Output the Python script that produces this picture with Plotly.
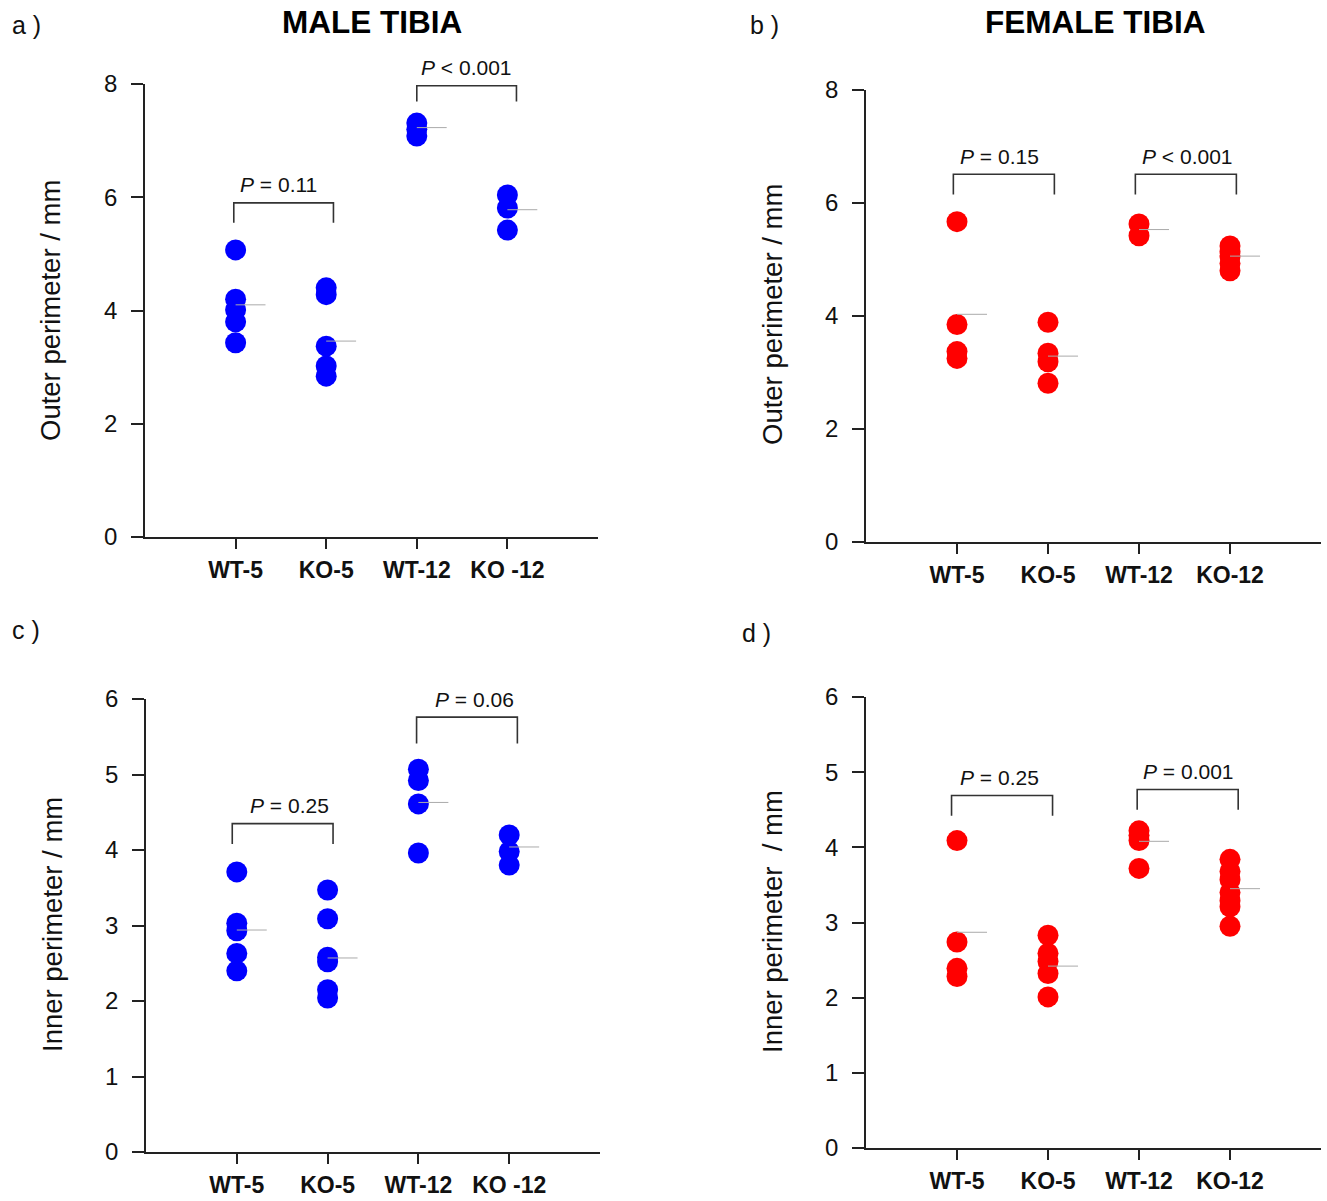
import plotly.graph_objects as go

W, H = 1327, 1201
FONT = "Liberation Sans, Arial, sans-serif"

categories_ab = ["WT-5", "KO-5", "WT-12", "KO -12"]
categories_cd = ["WT-5", "KO-5", "WT-12", "KO-12"]

# Panel a: male tibia outer perimeter (mm)
a_wt5 = [5.07, 4.20, 4.01, 3.80, 3.43]
a_ko5 = [4.40, 4.28, 3.37, 3.02, 2.84]
a_wt12 = [7.31, 7.20, 7.08]
a_ko12 = [6.04, 5.81, 5.42]
a_means = [4.10, 3.46, 7.23, 5.78]

# Panel b: female tibia outer perimeter (mm)
b_wt5 = [5.67, 3.85, 3.37, 3.25]
b_ko5 = [3.89, 3.34, 3.19, 2.81]
b_wt12 = [5.63, 5.42]
b_ko12 = [5.24, 5.14, 5.05, 4.93, 4.80]
b_means = [4.03, 3.29, 5.53, 5.06]

# Panel c: male tibia inner perimeter (mm)
c_wt5 = [3.71, 3.03, 2.93, 2.63, 2.40]
c_ko5 = [3.47, 3.09, 2.58, 2.52, 2.15, 2.04]
c_wt12 = [5.07, 4.92, 4.61, 3.96]
c_ko12 = [4.20, 3.98, 3.80]
c_means = [2.94, 2.57, 4.63, 4.04]

# Panel d: female tibia inner perimeter (mm)
d_wt5 = [4.09, 2.74, 2.39, 2.28]
d_ko5 = [2.83, 2.59, 2.48, 2.32, 2.01]
d_wt12 = [4.22, 4.16, 4.09, 3.72]
d_ko12 = [3.84, 3.68, 3.57, 3.40, 3.29, 3.21, 2.95]
d_means = [2.87, 2.42, 4.08, 3.45]

# P-value labels
a_pvals = ["<i>P</i> = 0.11", "<i>P</i> < 0.001"]
b_pvals = ["<i>P</i> = 0.15", "<i>P</i> < 0.001"]
c_pvals = ["<i>P</i> = 0.25", "<i>P</i> = 0.06"]
d_pvals = ["<i>P</i> = 0.25", "<i>P</i> = 0.001"]


def px_x(p):
    return p / W


def px_y(p):
    return 1 - p / H


panels = [
    dict(key="a", groups=[a_wt5, a_ko5, a_wt12, a_ko12], means=a_means, color="#0000FF",
         cats=categories_ab, xd=(145, 598), yd=(84, 537), yr=8,
         brackets=[(0.98, 2.08, 5.90, 5.55, a_pvals[0], -5), (3.00, 4.10, 7.97, 7.69, a_pvals[1], 0)],
         ytitle="Outer perimeter / mm", ytitle_pos=(50, 311)),
    dict(key="b", groups=[b_wt5, b_ko5, b_wt12, b_ko12], means=b_means, color="#FF0000",
         cats=categories_cd, xd=(866, 1321), yd=(90, 542), yr=8,
         brackets=[(0.96, 2.07, 6.51, 6.15, b_pvals[0], -4), (2.96, 4.07, 6.51, 6.15, b_pvals[1], 2)],
         ytitle="Outer perimeter / mm", ytitle_pos=(772, 315)),
    dict(key="c", groups=[c_wt5, c_ko5, c_wt12, c_ko12], means=c_means, color="#0000FF",
         cats=categories_ab, xd=(146, 600), yd=(699, 1152), yr=6,
         brackets=[(0.95, 2.06, 4.35, 4.08, c_pvals[0], 7), (2.98, 4.09, 5.76, 5.41, c_pvals[1], 8)],
         ytitle="Inner perimeter / mm", ytitle_pos=(52, 925)),
    dict(key="d", groups=[d_wt5, d_ko5, d_wt12, d_ko12], means=d_means, color="#FF0000",
         cats=categories_cd, xd=(866, 1321), yd=(697, 1148), yr=6,
         brackets=[(0.94, 2.05, 4.69, 4.42, d_pvals[0], -3), (2.98, 4.09, 4.77, 4.50, d_pvals[1], 1)],
         ytitle="Inner perimeter  / mm", ytitle_pos=(772, 922)),
]

fig = go.Figure()
shapes = []
annotations = []

for i, p in enumerate(panels):
    n = "" if i == 0 else str(i + 1)
    xa, ya = "x" + n, "y" + n
    # points
    for gi, vals in enumerate(p["groups"]):
        fig.add_trace(go.Scatter(
            x=[gi + 1] * len(vals), y=vals, mode="markers", xaxis=xa, yaxis=ya,
            marker=dict(size=21, color=p["color"], line=dict(width=0)),
            cliponaxis=False, showlegend=False, hoverinfo="y"))
    # mean lines
    for gi, m in enumerate(p["means"]):
        fig.add_trace(go.Scatter(
            x=[gi + 1, gi + 1.33], y=[m, m], mode="lines", xaxis=xa, yaxis=ya,
            line=dict(color="#AAAAAA", width=1), showlegend=False, hoverinfo="skip"))
    # brackets
    for (x0, x1, yt, yl, txt, dx) in p["brackets"]:
        shapes.append(dict(type="path", xref=xa, yref=ya,
                           path=f"M {x0},{yl} L {x0},{yt} L {x1},{yt} L {x1},{yl}",
                           line=dict(color="#333333", width=1.6)))
        annotations.append(dict(x=(x0 + x1) / 2, y=yt, xref=xa, yref=ya, text=txt,
                                showarrow=False, yanchor="middle", yshift=18, xshift=dx,
                                font=dict(size=21, color="#111111", family=FONT)))
    # axes
    fig.update_layout(**{
        ("xaxis" + n): dict(domain=[px_x(p["xd"][0]), px_x(p["xd"][1])], range=[0, 5],
                            tickvals=[1, 2, 3, 4], ticktext=[f"<b>{c}</b>" for c in p["cats"]],
                            showline=True, linecolor="#222222", linewidth=1.5,
                            ticks="outside", ticklen=10, tickwidth=1.5, tickcolor="#222222",
                            ticklabelstandoff=2, showgrid=False, zeroline=False,
                            automargin=False,
                            tickfont=dict(size=23, color="#111111", family=FONT),
                            anchor=ya, fixedrange=True),
        ("yaxis" + n): dict(domain=[px_y(p["yd"][1]), px_y(p["yd"][0])], range=[0, p["yr"]],
                            dtick=(2 if p["yr"] == 8 else 1), tick0=0,
                            showline=True, linecolor="#222222", linewidth=1.5,
                            ticks="outside", ticklen=12, tickwidth=1.5, tickcolor="#222222",
                            ticklabelstandoff=9, showgrid=False, zeroline=False,
                            automargin=False,
                            tickfont=dict(size=24, color="#111111", family=FONT),
                            anchor=xa, fixedrange=True),
    })
    annotations.append(dict(x=px_x(p["ytitle_pos"][0]), y=px_y(p["ytitle_pos"][1]),
                            xref="paper", yref="paper", text=p["ytitle"], textangle=-90,
                            showarrow=False, xanchor="center", yanchor="middle",
                            font=dict(size=27.5, color="#111111", family=FONT)))

# panel labels and titles
for lbl, lx, ly in [("a )", 10, 25), ("b )", 748, 25), ("c )", 10, 630), ("d )", 740, 633)]:
    annotations.append(dict(x=px_x(lx), y=px_y(ly), xref="paper", yref="paper", text=lbl,
                            showarrow=False, xanchor="left", yanchor="middle",
                            font=dict(size=25, color="#111111", family=FONT)))
for t, tx, ty in [("<b>MALE TIBIA</b>", 372, 22), ("<b>FEMALE TIBIA</b>", 1095, 22)]:
    annotations.append(dict(x=px_x(tx), y=px_y(ty), xref="paper", yref="paper", text=t,
                            showarrow=False, xanchor="center", yanchor="middle",
                            font=dict(size=31.5, color="#000000", family=FONT)))

fig.update_layout(width=W, height=H, margin=dict(l=0, r=0, t=0, b=0, autoexpand=False),
                  paper_bgcolor="white", plot_bgcolor="white",
                  shapes=shapes, annotations=annotations, showlegend=False,
                  font=dict(family=FONT))

fig.write_html("out.html", config={"displayModeBar": False},
               post_script="document.body.style.margin='0';document.body.style.padding='0';")
